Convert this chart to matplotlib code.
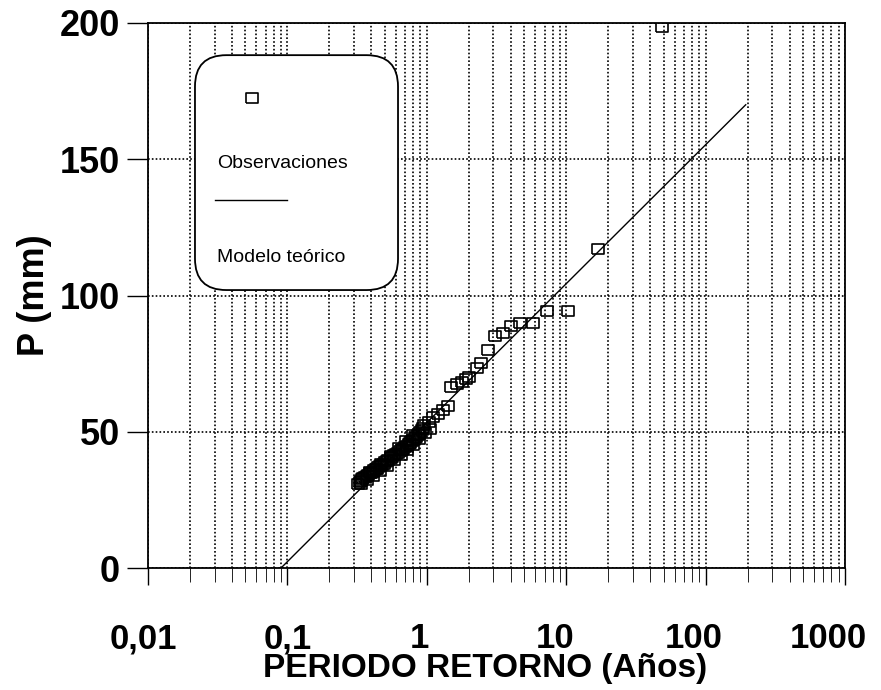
import matplotlib
matplotlib.use("Agg")
import matplotlib.pyplot as plt
from matplotlib.patches import FancyBboxPatch
from matplotlib.lines import Line2D
from matplotlib.ticker import FixedLocator, NullFormatter
from matplotlib.transforms import ScaledTranslation

# ---- data ----
obs_T = [0.32, 0.33, 0.34, 0.345, 0.35, 0.36, 0.37, 0.38, 0.39, 0.40,
         0.41, 0.42, 0.43, 0.44, 0.45, 0.46, 0.48, 0.49, 0.50, 0.52,
         0.53, 0.55, 0.56, 0.58, 0.60, 0.62, 0.64, 0.66, 0.68, 0.70,
         0.72, 0.74, 0.76, 0.78, 0.80, 0.82, 0.84, 0.86, 0.88, 0.90,
         0.92, 0.94, 0.96, 1.03, 1.11, 1.21, 1.31, 1.43, 1.48, 1.64,
         1.78, 1.91, 2.02, 2.28, 2.45, 2.73, 3.08, 3.50, 3.99, 4.67,
         5.8, 7.28, 10.3, 16.9, 48.6,
         0.34, 0.37, 0.41, 0.46, 0.52, 0.58, 0.65, 0.72, 0.80, 0.88,
         0.97, 1.05, 0.39, 0.47, 0.55, 0.63, 0.71, 0.79]
obs_P = [31.0, 31.5, 32.0, 32.5, 33.0, 33.3, 33.8, 34.2, 34.7, 35.0,
         35.3, 35.8, 36.2, 36.5, 37.0, 37.4, 37.9, 38.3, 38.8, 39.2,
         39.6, 40.2, 40.8, 41.3, 41.8, 42.3, 42.8, 43.3, 43.8, 44.3,
         44.8, 45.5, 46.0, 46.5, 47.0, 47.6, 48.2, 48.7, 49.3, 49.8,
         50.5, 51.2, 52.5, 53.7, 55.3, 56.5, 58.0, 59.4, 66.3, 67.5,
         68.4, 69.2, 70.2, 73.3, 75.3, 80.0, 85.1, 86.1, 88.8, 89.8,
         90.0, 94.4, 94.4, 117.0, 198.5,
         30.8, 32.3, 33.8, 35.6, 37.6, 39.5, 41.4, 43.2, 45.2, 47.3,
         49.6, 51.0, 35.2, 38.2, 41.2, 43.9, 46.5, 48.9]
model_T = [0.09, 194]
model_P = [0.0, 170.0]

x_ticks = [0.01, 0.1, 1, 10, 100, 1000]
x_ticklabels = ["0,01", "0,1", "1", "10", "100", "1000"]
y_ticks = [0, 50, 100, 150, 200]
y_ticklabels = ["0", "50", "100", "150", "200"]
legend_labels = ["Observaciones", "Modelo teórico"]
x_label = "PERIODO RETORNO (Años)"
y_label = "P (mm)"

plt.rcParams['font.family'] = ['Liberation Sans', 'DejaVu Sans']

fig = plt.figure(figsize=(8.81, 6.90), dpi=100)
ax = fig.add_axes([148/881, 1-568/690, 697/881, 545/690])

rect_marker = [(-1.3, -1.0), (1.3, -1.0), (1.3, 1.0), (-1.3, 1.0), (-1.3, -1.0)]

ax.plot(model_T, model_P, color='black', lw=1.0, zorder=3)
ax.plot(obs_T, obs_P, linestyle='none', marker=rect_marker, markersize=9,
        mfc='none', mec='black', mew=1.2, zorder=4)

ax.set_xscale('log')
ax.set_xlim(0.01, 1000)
ax.set_ylim(0, 200)

ax.set_xticks(x_ticks)
ax.set_xticklabels(x_ticklabels)
ax.xaxis.set_minor_locator(FixedLocator([m * 10.0**e for e in range(-2, 3) for m in range(2, 10)]))
ax.xaxis.set_minor_formatter(NullFormatter())
ax.set_yticks(y_ticks)
ax.set_yticklabels(y_ticklabels)

gs = (0, (1, 1.3))
ax.grid(True, which='major', axis='both', color='black', linestyle=gs, linewidth=1.2)
ax.grid(True, which='minor', axis='x', color='black', linestyle=gs, linewidth=1.2)
ax.set_axisbelow(True)

for s in ax.spines.values():
    s.set_linewidth(1.3)
    s.set_color('black')

ax.tick_params(axis='x', which='major', direction='out', length=12, width=1.0,
               pad=27, labelsize=25)
ax.tick_params(axis='x', which='minor', direction='out', length=10, width=0.6)
ax.tick_params(axis='y', which='major', direction='out', length=15, width=1.0,
               pad=5, labelsize=26)
for lab in ax.get_xticklabels() + ax.get_yticklabels():
    lab.set_fontweight('bold')

# small horizontal offsets of the x tick labels, as in the reference
x_offsets_px = [-5, 0, -7, -11, -12, -17]
for lab, dx in zip(ax.get_xticklabels(), x_offsets_px):
    lab.set_transform(lab.get_transform() + ScaledTranslation(dx / 100, 0, fig.dpi_scale_trans))

ax.set_xlabel(x_label, fontsize=24, fontweight='bold')
ax.xaxis.set_label_coords((485 - 148) / 697, -(653 - 568) / 545)
ax.set_ylabel(y_label, fontsize=26, fontweight='bold', labelpad=6)

# legend box (drawn manually to match layout)
box = FancyBboxPatch((0.0674, 0.510), 0.2913, 0.431,
                     boxstyle="round,pad=0,rounding_size=0.045",
                     transform=ax.transAxes, facecolor='white',
                     edgecolor='black', linewidth=1.3, zorder=5,
                     mutation_aspect=697/545)
ax.add_patch(box)
ax.add_line(Line2D([0.149], [0.862], transform=ax.transAxes, linestyle='none',
                   marker=rect_marker, markersize=9, mfc='none', mec='black',
                   mew=1.2, zorder=6))
ax.text(0.099, 0.743, legend_labels[0], transform=ax.transAxes, fontsize=14,
        va='center', ha='left', zorder=6)
ax.add_line(Line2D([0.096, 0.199], [0.675, 0.675], transform=ax.transAxes,
                   color='black', lw=1.0, zorder=6))
ax.text(0.099, 0.569, legend_labels[1], transform=ax.transAxes, fontsize=14,
        va='center', ha='left', zorder=6)

fig.savefig("out.png", dpi=100)
